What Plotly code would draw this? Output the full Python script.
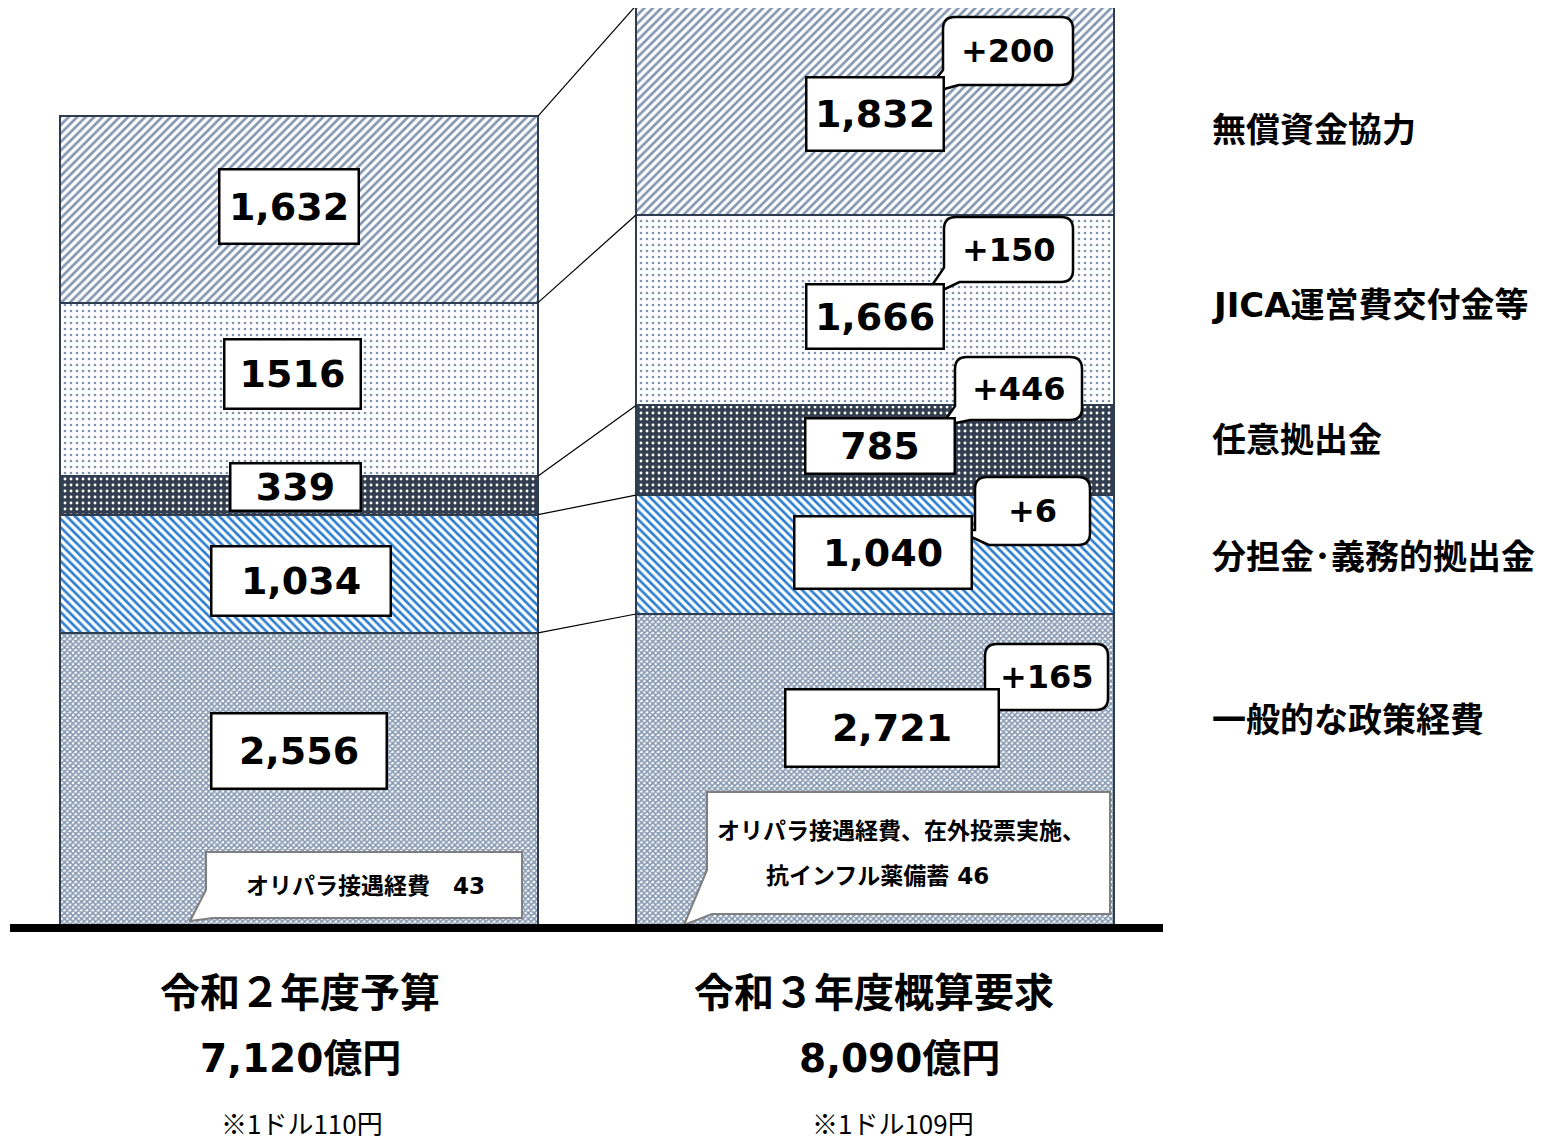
import plotly.graph_objects as go

# ---------------- data ----------------
categories = ["一般的な政策経費", "分担金･義務的拠出金", "任意拠出金", "JICA運営費交付金等", "無償資金協力"]
bar_titles = ["令和２年度予算", "令和３年度概算要求"]
bar_totals = ["7,120億円", "8,090億円"]
bar_rates = ["※1ドル110円", "※1ドル109円"]
r2_values = [2556, 1034, 339, 1516, 1632]
r3_values = [2721, 1040, 785, 1666, 1832]
r2_labels = ["2,556", "1,034", "339", "1516", "1,632"]
r3_labels = ["2,721", "1,040", "785", "1,666", "1,832"]
note_r2 = ["オリパラ接遇経費　43"]
note_r3 = ["オリパラ接遇経費、在外投票実施、", "抗インフル薬備蓄 46"]

# ---------------- style ----------------
W, H = 1547, 1142
OFF = 8  # page body margin
BAR_W = 0.83
FONT_NUM = "DejaVu Sans, Noto Sans CJK JP, sans-serif"
FONT_JP = "DejaVu Sans, Noto Sans CJK JP, sans-serif"
OUTLINE = "#2f3b4e"
patterns = [
    dict(shape="x", fgcolor="#8497b0", bgcolor="#ffffff", size=4, solidity=0.65, fillmode="replace"),
    dict(shape="\\", fgcolor="#2f7fcf", bgcolor="#ffffff", size=6, solidity=0.45, fillmode="replace"),
    dict(shape=".", fgcolor="#ffffff", bgcolor="#333f50", size=6, solidity=0.18, fillmode="replace"),
    dict(shape=".", fgcolor="#7f93ad", bgcolor="#ffffff", size=6, solidity=0.16, fillmode="replace"),
    dict(shape="/", fgcolor="#8497b0", bgcolor="#ffffff", size=6, solidity=0.45, fillmode="replace"),
]
# value box: (xshift, yshift from segment middle, width, height)
r2_box = [(0, 28, 178, 78), (2, -7, 182, 72), (-4, 8, 133, 50), (-7, 15, 139, 72), (-10, 3, 142, 77)]
r3_box = [(17, 41, 216, 80), (8, 2, 180, 75), (5, 4, 152, 58), (0, -6, 140, 67), (0, -4, 140, 76)]
# callouts (pixel box x0,y0,x1,y1 and tail tip)
callouts = [
    (985, 644, 1108, 710, (972, 714)),
    (975, 477, 1090, 545, (956, 530)),
    (955, 357, 1082, 420, (941, 426)),
    (944, 217, 1073, 282, (922, 300)),
    (943, 17, 1073, 85, (923, 95)),
]
label_y = [720, 557, 440, 305, 130]


def px(x):
    return (x - OFF) / W


def py(y):
    return 1 - (y - OFF) / H


fig = go.Figure()

for i, cat in enumerate(categories):
    fig.add_trace(go.Bar(
        x=[0, 1], y=[r2_values[i], r3_values[i]], width=BAR_W, name=cat,
        marker=dict(color=patterns[i]["bgcolor"], pattern=patterns[i],
                    line=dict(color=OUTLINE, width=2)),
        hoverinfo="skip",
    ))

# connector lines between cumulative boundaries
cum2, cum3 = [], []
s2 = s3 = 0
for a, b in zip(r2_values, r3_values):
    s2 += a
    s3 += b
    cum2.append(s2)
    cum3.append(s3)
for a, b in zip(cum2, cum3):
    fig.add_trace(go.Scatter(x=[BAR_W / 2, 1 - BAR_W / 2], y=[a, b], mode="lines",
                             line=dict(color="#000000", width=1.2), hoverinfo="skip"))

annotations = []
shapes = []

# value boxes
for bar_i, (vals, labels, boxes) in enumerate([(r2_values, r2_labels, r2_box), (r3_values, r3_labels, r3_box)]):
    base = 0
    for i, v in enumerate(vals):
        mid = base + v / 2
        base += v
        xs, ys, bw, bh = boxes[i]
        annotations.append(dict(
            x=bar_i, y=mid, xref="x", yref="y", text="<b>%s</b>" % labels[i], showarrow=False,
            xanchor="center", yanchor="middle",
            xshift=xs, yshift=ys, width=bw - 5, height=bh - 5, borderpad=0,
            bgcolor="#ffffff", bordercolor="#000000", borderwidth=2.5,
            font=dict(family=FONT_NUM, size=38, color="#000000"),
        ))


# increase callouts
def callout_path(x0, y0, x1, y1, tip, r=12):
    w, h = x1 - x0, y1 - y0
    ax, ay = x0, y1 - 0.22 * h
    bx, by = x0 + 0.12 * w, y1
    pts = [
        ("M", [(x0 + r, y0)]), ("L", [(x1 - r, y0)]), ("Q", [(x1, y0), (x1, y0 + r)]),
        ("L", [(x1, y1 - r)]), ("Q", [(x1, y1), (x1 - r, y1)]), ("L", [(bx, by)]),
        ("L", [tip]), ("L", [(ax, ay)]), ("L", [(x0, y0 + r)]), ("Q", [(x0, y0), (x0 + r, y0)]),
    ]
    s = ""
    for cmd, ps in pts:
        s += cmd + " " + " ".join("%.5f,%.5f" % (px(p[0]), py(p[1])) for p in ps) + " "
    return s + "Z"


for i, (x0, y0, x1, y1, tip) in enumerate(callouts):
    shapes.append(dict(type="path", xref="paper", yref="paper", path=callout_path(x0, y0, x1, y1, tip),
                       fillcolor="#ffffff", line=dict(color="#000000", width=2.5)))
    annotations.append(dict(
        x=px((x0 + x1) / 2), y=py((y0 + y1) / 2), xref="paper", yref="paper",
        xanchor="center", yanchor="middle",
        text="<b>+%d</b>" % (r3_values[i] - r2_values[i]), showarrow=False,
        font=dict(family=FONT_NUM, size=32, color="#000000"),
    ))


# note boxes
def note_path(x0, y0, x1, y1, a, tip, b):
    pts = [(x0, y0), (x1, y0), (x1, y1), b, tip, a]
    s = "M " + " L ".join("%.5f,%.5f" % (px(p[0]), py(p[1])) for p in pts)
    return s + " Z"


shapes.append(dict(type="path", xref="paper", yref="paper",
                   path=note_path(206, 852, 522, 918, (206, 890), (190, 921), (213, 918)),
                   fillcolor="#ffffff", line=dict(color="#7f7f7f", width=2)))
shapes.append(dict(type="path", xref="paper", yref="paper",
                   path=note_path(707, 792, 1110, 914, (707, 870), (684, 925), (712, 914)),
                   fillcolor="#ffffff", line=dict(color="#7f7f7f", width=2)))
annotations.append(dict(x=px(365), y=py(886), xref="paper", yref="paper", showarrow=False,
                        xanchor="center", yanchor="middle",
                        text="<b>%s</b>" % note_r2[0], font=dict(family=FONT_JP, size=23, color="#000000")))
for j, line in enumerate(note_r3):
    annotations.append(dict(x=px(901 if j == 0 else 877), y=py(831 + 45 * j), xref="paper", yref="paper",
                            showarrow=False, xanchor="center", yanchor="middle", text="<b>%s</b>" % line,
                            font=dict(family=FONT_JP, size=23, color="#000000")))

# baseline
shapes.append(dict(type="line", xref="paper", yref="paper", x0=px(10), x1=px(1163), y0=py(928), y1=py(928),
                   line=dict(color="#000000", width=8)))

# category labels on the right
for i, cat in enumerate(categories):
    annotations.append(dict(x=px(1210), y=py(label_y[i]), xref="paper", yref="paper", xanchor="left",
                            yanchor="middle", showarrow=False, text="<b>%s</b>" % cat,
                            font=dict(family=FONT_JP, size=34, color="#000000")))

# bottom titles
title_x = [300, 874]
total_x = [300, 900]
rate_x = [302, 893]
for k in range(2):
    annotations.append(dict(x=px(title_x[k]), y=py(993), xref="paper", yref="paper", showarrow=False,
                            xanchor="center", yanchor="middle",
                            text="<b>%s</b>" % bar_titles[k], font=dict(family=FONT_JP, size=40, color="#000000")))
    annotations.append(dict(x=px(total_x[k]), y=py(1058), xref="paper", yref="paper", showarrow=False,
                            xanchor="center", yanchor="middle",
                            text="<b>%s</b>" % bar_totals[k], font=dict(family=FONT_JP, size=39, color="#000000")))
    annotations.append(dict(x=px(rate_x[k]), y=py(1122), xref="paper", yref="paper", showarrow=False,
                            xanchor="center", yanchor="middle",
                            text=bar_rates[k], font=dict(family="Noto Sans CJK JP, sans-serif", size=26, color="#000000")))

fig.update_layout(
    width=W, height=H, margin=dict(l=0, r=0, t=0, b=0),
    barmode="stack", showlegend=False,
    paper_bgcolor="#ffffff", plot_bgcolor="#ffffff",
    xaxis=dict(range=[(OFF - 299) / 576, (W + OFF - 299) / 576], visible=False, fixedrange=True),
    yaxis=dict(range=[(925 - H - OFF) / 0.1143, (925 - OFF) / 0.1143], visible=False, fixedrange=True),
    shapes=shapes, annotations=annotations,
)

fig.write_html("out.html")
